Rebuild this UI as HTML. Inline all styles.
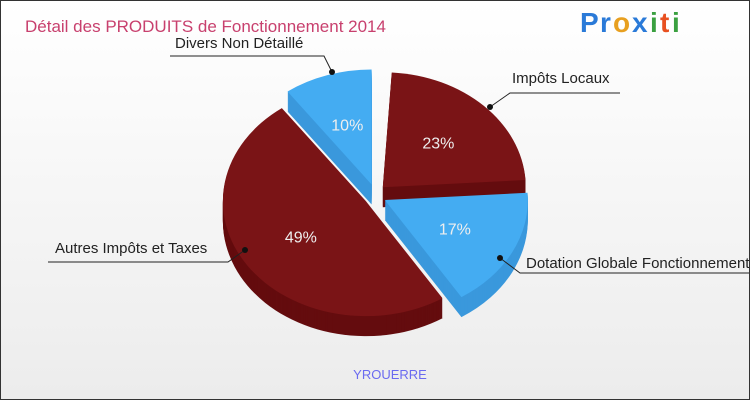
<!DOCTYPE html>
<html><head><meta charset="utf-8"><style>
html,body{margin:0;padding:0}
body{width:750px;height:400px;overflow:hidden;font-family:"Liberation Sans",sans-serif}
#wrap{position:absolute;left:0;top:0;width:748px;height:398px;border:1px solid #333;background:linear-gradient(#ffffff,#ececec)}
</style></head><body>
<div id="wrap">
<svg id="svg" width="748" height="398" viewBox="1 1 748 398" xmlns="http://www.w3.org/2000/svg">
<text x="25" y="32" font-size="17" fill="#c8406e">Détail des PRODUITS de Fonctionnement 2014</text>
<g font-size="28" font-weight="bold">
<text x="580" y="32" fill="#2a7ad8">P</text><text x="600" y="32" fill="#2a7ad8">r</text><text x="613" y="32" fill="#e8a020">o</text><text x="632" y="32" fill="#2a7ad8">x</text><text x="650" y="32" fill="#3aa040">i</text><text x="660" y="32" fill="#e85020">t</text><text x="672" y="32" fill="#3aa040">i</text>
</g>
<text x="390" y="379" font-size="13" fill="#6a6af0" text-anchor="middle">YROUERRE</text>
<g id="pie"></g>
<g id="labels" font-size="15" fill="#222"></g>
</svg></div>
<script>
const categories=["Impôts Locaux","Dotation Globale Fonctionnement","Autres Impôts et Taxes","Divers Non Détaillé"];
const values=[23,17,49,10];
const ns="http://www.w3.org/2000/svg";
const cx=375,cy=195,rx=143,ry=115,depth=20,explode=11;
const tops=["#7a1416","#44acf2","#7a1416","#44acf2"],sides=["#640c0e","#3a98dc","#640c0e","#3a98dc"];
const total=100;
const pie=document.getElementById('pie');
let a=-86.4;const slices=[];
values.forEach((v,i)=>{const s=a,e=a+v/total*360;a=e;slices.push({i,s,e});});
function pt(ox,oy,ang){const r=ang*Math.PI/180;return [ox+rx*Math.cos(r),oy+ry*Math.sin(r)];}
function path(ox,oy,s,e){const p1=pt(ox,oy,s),p2=pt(ox,oy,e);const large=(e-s)>180?1:0;
return `M${ox},${oy}L${p1[0]},${p1[1]}A${rx},${ry} 0 ${large} 1 ${p2[0]},${p2[1]}Z`;}
[3,0,1,2].forEach(k=>{const sl=slices[k];const m=(sl.s+sl.e)/2*Math.PI/180;
const ox=cx+explode*Math.cos(m),oy=cy+explode*Math.sin(m);
const g=document.createElementNS(ns,'g');


for(let d=depth;d>0;d-=1){const p=document.createElementNS(ns,'path');p.setAttribute('d',path(ox,oy+d,sl.s,sl.e));p.setAttribute('fill',sides[k]);g.appendChild(p);}
const t=document.createElementNS(ns,'path');t.setAttribute('d',path(ox,oy,sl.s,sl.e));t.setAttribute('fill',tops[k]);g.appendChild(t);
const [lx,ly]=[ox+rx*0.55*Math.cos(m),oy+ry*0.55*Math.sin(m)];
const tx=document.createElementNS(ns,'text');tx.setAttribute('x',lx);tx.setAttribute('y',ly+6);tx.setAttribute('text-anchor','middle');tx.setAttribute('font-size','16');tx.setAttribute('fill','#eee');tx.textContent=values[k]+'%';


g.appendChild(tx);pie.appendChild(g);});
const labels=document.getElementById('labels');
const callouts=[
{t:0,x:512,y:83,line:"M620,93L510,93L490,107",tip:[490,107]},
{t:1,x:526,y:268,line:"M750,273L520,273L500,258",tip:[500,258]},
{t:2,x:55,y:253,line:"M48,262L228,262L245,250",tip:[245,250]},
{t:3,x:175,y:48,line:"M170,56L324,56L332,72",tip:[332,72]}];
callouts.forEach(c=>{const g=document.createElementNS(ns,'g');


const p=document.createElementNS(ns,'path');p.setAttribute('d',c.line);p.setAttribute('stroke','#222');p.setAttribute('fill','none');g.appendChild(p);
const c2=document.createElementNS(ns,'circle');c2.setAttribute('cx',c.tip[0]);c2.setAttribute('cy',c.tip[1]);c2.setAttribute('r',3);c2.setAttribute('fill','#111');g.appendChild(c2);
const tx=document.createElementNS(ns,'text');tx.setAttribute('x',c.x);tx.setAttribute('y',c.y);tx.textContent=categories[c.t];g.appendChild(tx);
labels.appendChild(g);});
</script>
</body></html>
